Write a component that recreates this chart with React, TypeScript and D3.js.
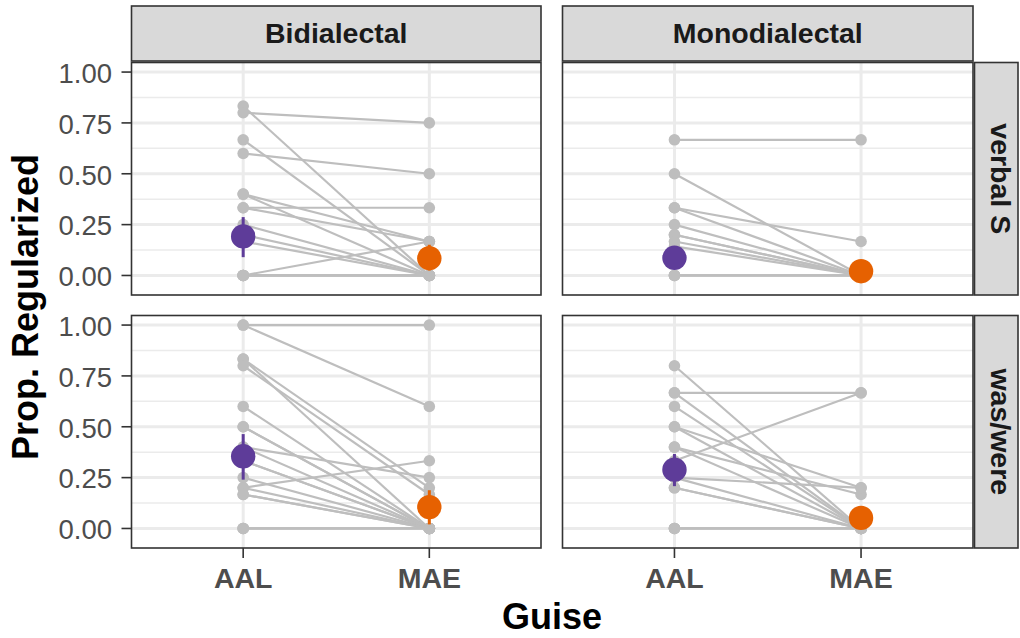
import React from "react";
import * as d3 from "d3";

// Facets
const groups = ["Bidialectal", "Monodialectal"];
const features = ["verbal S", "was/were"];
const guises = ["AAL", "MAE"];

// Per-participant proportions, paired by index (AAL guise, MAE guise)
const bidiVerbalAAL = [0.833, 0.8, 0.667, 0.6, 0.4, 0.4, 0.333, 0.333, 0.25, 0.2, 0.167, 0, 0, 0, 0, 0];
const bidiVerbalMAE = [0, 0.75, 0, 0.5, 0.167, 0, 0.333, 0.167, 0, 0, 0, 0.167, 0, 0, 0, 0];

const monoVerbalAAL = [0.667, 0.5, 0.333, 0.333, 0.25, 0.2, 0.2, 0.167, 0.143, 0, 0, 0];
const monoVerbalMAE = [0.667, 0, 0.167, 0, 0, 0, 0, 0, 0, 0, 0, 0];

const bidiWasAAL = [1, 1, 0.833, 0.833, 0.8, 0.6, 0.5, 0.5, 0.4, 0.4, 0.333, 0.333, 0.25, 0.2, 0.2, 0.167, 0.167, 0, 0, 0];
const bidiWasMAE = [1, 0.6, 0.2, 0, 0.167, 0, 0, 0, 0.25, 0, 0, 0, 0, 0.333, 0, 0, 0, 0, 0, 0];

const monoWasAAL = [0.8, 0.667, 0.667, 0.6, 0.5, 0.5, 0.4, 0.4, 0.333, 0.25, 0.25, 0.2, 0.2, 0, 0, 0];
const monoWasMAE = [0, 0.667, 0, 0, 0.2, 0, 0.167, 0, 0.667, 0.2, 0, 0, 0, 0, 0, 0];

// Group means with interval bounds, order: Bidi/verbal S, Mono/verbal S, Bidi/was-were, Mono/was-were
const meanAAL = [0.192, 0.087, 0.355, 0.289];
const lowAAL = [0.09, 0.045, 0.24, 0.208];
const highAAL = [0.287, 0.13, 0.464, 0.366];
const meanMAE = [0.085, 0.021, 0.105, 0.052];
const lowMAE = [0.025, 0.005, 0.02, 0.02];
const highMAE = [0.151, 0.04, 0.188, 0.085];

const yTicks = [0, 0.25, 0.5, 0.75, 1];
const yMinor = [0.125, 0.375, 0.625, 0.875];
const yTickLabels = ["0.00", "0.25", "0.50", "0.75", "1.00"];

const guiseColors = ["#5E3C99", "#E66101"];

const panelData = [
  { row: 0, col: 0, aal: bidiVerbalAAL, mae: bidiVerbalMAE },
  { row: 0, col: 1, aal: monoVerbalAAL, mae: monoVerbalMAE },
  { row: 1, col: 0, aal: bidiWasAAL, mae: bidiWasMAE },
  { row: 1, col: 1, aal: monoWasAAL, mae: monoWasMAE },
];

const FONT = "'Liberation Sans', Arial, Helvetica, sans-serif";
const colX: [number, number][] = [[131.5, 541], [562.5, 973]];
const rowY: [number, number][] = [[62.5, 295], [315.5, 548]];
const GRID = "#EBEBEB";
const BORDER = "#333333";
const GREY = "#BEBEBE";

export default function App() {
  const xScales = colX.map(([a, b]) => d3.scalePoint<string>().domain(guises).range([a, b]).padding(0.6));
  const yScales = rowY.map(([top, bottom]) => d3.scaleLinear().domain([-0.096, 1.047]).range([bottom, top]));

  return (
    <svg width={1020} height={638} style={{ position: "absolute", left: 0, top: 0, background: "#fff" }}>
      <rect x={0} y={0} width={1020} height={638} fill="#fff" />
      {panelData.map((p, i) => {
        const x = xScales[p.col];
        const y = yScales[p.row];
        const [x0, x1] = colX[p.col];
        const [y0, y1] = rowY[p.row];
        const xa = x("AAL")!;
        const xm = x("MAE")!;
        return (
          <g key={i}>
            <rect x={x0} y={y0} width={x1 - x0} height={y1 - y0} fill="#fff" />
            {yMinor.map((v) => (
              <line key={"mn" + v} x1={x0} x2={x1} y1={y(v)} y2={y(v)} stroke={GRID} strokeWidth={1.5} />
            ))}
            {yTicks.map((v) => (
              <line key={"mj" + v} x1={x0} x2={x1} y1={y(v)} y2={y(v)} stroke={GRID} strokeWidth={3} />
            ))}
            {guises.map((g) => (
              <line key={"gx" + g} x1={x(g)} x2={x(g)} y1={y0} y2={y1} stroke={GRID} strokeWidth={3} />
            ))}
            {p.aal.map((a, k) => (
              <line key={"l" + k} x1={xa} x2={xm} y1={y(a)} y2={y(p.mae[k])} stroke={GREY} strokeWidth={2.2} />
            ))}
            {p.aal.map((a, k) => (
              <circle key={"pa" + k} cx={xa} cy={y(a)} r={5.8} fill={GREY} />
            ))}
            {p.mae.map((m, k) => (
              <circle key={"pm" + k} cx={xm} cy={y(m)} r={5.8} fill={GREY} />
            ))}
            <line x1={xa} x2={xa} y1={y(lowAAL[i])} y2={y(highAAL[i])} stroke={guiseColors[0]} strokeWidth={3} />
            <line x1={xm} x2={xm} y1={y(lowMAE[i])} y2={y(highMAE[i])} stroke={guiseColors[1]} strokeWidth={3} />
            <circle cx={xa} cy={y(meanAAL[i])} r={12.2} fill={guiseColors[0]} />
            <circle cx={xm} cy={y(meanMAE[i])} r={12.2} fill={guiseColors[1]} />
            <rect x={x0} y={y0} width={x1 - x0} height={y1 - y0} fill="none" stroke={BORDER} strokeWidth={1.6} />
          </g>
        );
      })}

      {/* top strips */}
      {groups.map((g, c) => {
        const [x0, x1] = colX[c];
        return (
          <g key={"st" + g}>
            <rect x={x0} y={6} width={x1 - x0} height={55} fill="#D9D9D9" stroke={BORDER} strokeWidth={1.6} />
            <text x={(x0 + x1) / 2} y={43.3} textAnchor="middle" fontFamily={FONT} fontWeight="bold" fontSize={28.5} fill="#1A1A1A">
              {g}
            </text>
          </g>
        );
      })}

      {/* right strips */}
      {features.map((f, r) => {
        const [y0, y1] = rowY[r];
        return (
          <g key={"sr" + f}>
            <rect x={974.5} y={y0} width={43.5} height={y1 - y0} fill="#D9D9D9" stroke={BORDER} strokeWidth={1.6} />
            <text transform={`translate(990.5,${(y0 + y1) / 2}) rotate(90)`} textAnchor="middle" fontFamily={FONT} fontWeight="bold" fontSize={28.5} fill="#1A1A1A">
              {f}
            </text>
          </g>
        );
      })}

      {/* y axes */}
      {rowY.map((_, r) => {
        const y = yScales[r];
        const x0 = colX[0][0];
        return (
          <g key={"ya" + r}>
            {yTicks.map((v, k) => (
              <g key={v}>
                <line x1={x0 - 10} x2={x0} y1={y(v)} y2={y(v)} stroke={BORDER} strokeWidth={1.6} />
                <text x={x0 - 19.5} y={y(v) + 10.8} textAnchor="end" fontFamily={FONT} fontSize={27.5} fill="#4D4D4D">
                  {yTickLabels[k]}
                </text>
              </g>
            ))}
          </g>
        );
      })}

      {/* x axes */}
      {colX.map((_, c) => {
        const x = xScales[c];
        const yb = rowY[1][1];
        return (
          <g key={"xa" + c}>
            {guises.map((g) => (
              <g key={g}>
                <line x1={x(g)} x2={x(g)} y1={yb} y2={yb + 10} stroke={BORDER} strokeWidth={1.6} />
                <text x={x(g)} y={588.3} textAnchor="middle" fontFamily={FONT} fontWeight="bold" fontSize={28.5} fill="#4D4D4D">
                  {g}
                </text>
              </g>
            ))}
          </g>
        );
      })}

      {/* axis titles */}
      <text x={552} y={629} textAnchor="middle" fontFamily={FONT} fontWeight="bold" fontSize={36} fill="#000">
        Guise
      </text>
      <text transform={`translate(38,307) rotate(-90)`} textAnchor="middle" fontFamily={FONT} fontWeight="bold" fontSize={36} fill="#000">
        Prop. Regularized
      </text>
    </svg>
  );
}
